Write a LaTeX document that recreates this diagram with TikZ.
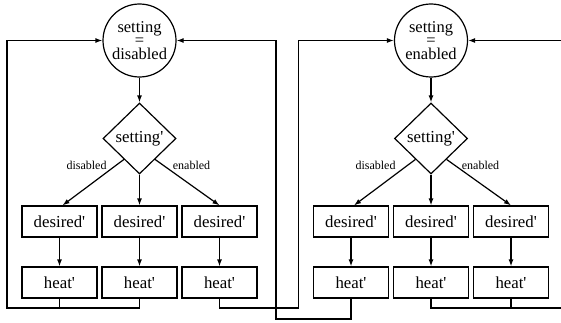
\documentclass[tikz,border=0pt]{standalone}
\usepackage{fontspec}
\setmainfont{Liberation Serif}
\usetikzlibrary{shapes.geometric,arrows.meta,calc}
\newcommand{\prm}{\textquotesingle}
\tikzset{
  state/.style={draw,circle,minimum size=73pt,inner sep=0pt,align=center,font=\fontsize{16.5}{13.5}\selectfont},
  choice/.style={draw,diamond,minimum width=73pt,minimum height=71pt,inner sep=0pt,font=\fontsize{16.8}{20}\selectfont},
  var/.style={draw,rectangle,minimum width=75pt,minimum height=31pt,inner sep=0pt,font=\fontsize{16.8}{20}\selectfont},
  lbl/.style={inner sep=0pt,font=\fontsize{12}{14}\selectfont},
  flow/.style={-{Latex[length=7pt,width=5pt]}},
}
\begin{document}
\begin{tikzpicture}[x=1pt,y=1pt,line width=1.2pt]
\useasboundingbox (0,0) rectangle (561,322);

%% setting = disabled
\node[state] (ds) at (139.5,281.5) {setting\\=\\disabled};
\node[choice] (dc) at (139.5,183.5) {setting\prm};
\node[var] (dd1) at (59.5,100.5) {desired\prm};
\node[var] (dd2) at (139.5,100.5) {desired\prm};
\node[var] (dd3) at (219.5,100.5) {desired\prm};
\node[var] (dh1) at (59.5,39.5) {heat\prm};
\node[var] (dh2) at (139.5,39.5) {heat\prm};
\node[var] (dh3) at (219.5,39.5) {heat\prm};
\node[lbl] (dl1) at (86.5,157) {disabled};
\node[lbl] (dl2) at (191.5,157) {enabled};

\draw[flow] (ds.south) -- (dc.north);
\draw[flow] ($(dc.south)!0.42!(dc.west)$) -- ([xshift=3pt]dd1.north);% disabled
\draw[flow] (dc.south) -- (dd2.north);
\draw[flow] ($(dc.south)!0.42!(dc.east)$) -- (dd3.north);% enabled
\draw[flow] (dd1.south) -- (dh1.north);
\draw[flow] (dd2.south) -- (dh2.north);
\draw[flow] (dd3.south) -- (dh3.north);

%% setting = enabled
\node[state] (es) at (431,281.5) {setting\\=\\enabled};
\node[choice] (ec) at (431,183.5) {setting\prm};
\node[var] (ed1) at (351,100.5) {desired\prm};
\node[var] (ed2) at (431,100.5) {desired\prm};
\node[var] (ed3) at (511,100.5) {desired\prm};
\node[var] (eh1) at (351,39.5) {heat\prm};
\node[var] (eh2) at (431,39.5) {heat\prm};
\node[var] (eh3) at (511,39.5) {heat\prm};
\node[lbl] (el1) at (375.5,157) {disabled};
\node[lbl] (el2) at (480.5,157) {enabled};

\draw[flow] (es.south) -- (ec.north);
\draw[flow] ($(ec.south)!0.42!(ec.west)$) -- ([xshift=3pt]ed1.north);% disabled
\draw[flow] (ec.south) -- (ed2.north);
\draw[flow] ($(ec.south)!0.42!(ec.east)$) -- (ed3.north);% enabled
\draw[flow] (ed1.south) -- (eh1.north);
\draw[flow] (ed2.south) -- (eh2.north);
\draw[flow] (ed3.south) -- (eh3.north);

%% feedback lines
\coordinate (dloop) at (7,14);
\coordinate (dback) at (276,3);
\coordinate (eloop) at (298.5,14);
\coordinate (eback) at (566,14);

\draw[flow] (dh2.south) |- (dloop) |- (ds.west);
\draw (dh1.south) -- (dh1.south |- dloop);
\draw[flow] (eh1.south) |- (dback) |- (ds.east);
\draw[flow] (dh3.south) |- (eloop) |- (es.west);
\draw[flow] (eh2.south) |- (eback) |- (es.east);
\draw (eh3.south) -- (eh3.south |- eback);
\end{tikzpicture}
\end{document}
